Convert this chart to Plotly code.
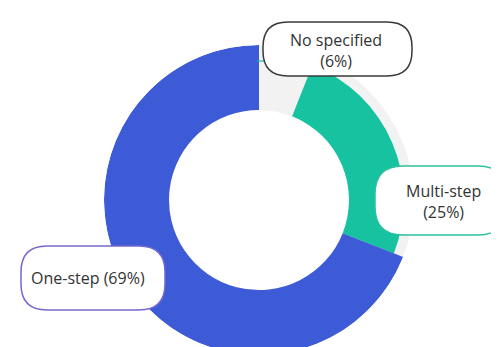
import plotly.graph_objects as go

# ---- data ----
categories = ["No specified", "Multi-step", "One-step"]
shares = [6, 25, 69]
label_texts = ["No specified<br>(6%)", "Multi-step<br>(25%)", "One-step (69%)"]

# ---- styling ----
colors = ["#f2f2f2", "#17c2a0", "#3d5bd6"]
outer_r = [136, 145, 155]
inner_r = 90
W, H = 499, 347
CX, CY, R = 251, 192, 155  # donut centre / radius in px

# slice geometry from the data (degrees)
centers, widths, acc = [], [], 0
for s in shares:
    centers.append((acc + s / 2) * 3.6)
    widths.append(s * 3.6)
    acc += s

fig = go.Figure()
# soft shadow ring
fig.add_trace(go.Barpolar(
    theta=[180], width=[360], base=[inner_r], r=[R - inner_r],
    marker=dict(color="rgba(0,0,0,0.05)", line=dict(width=0)),
    hoverinfo="skip", showlegend=False))
fig.add_trace(go.Barpolar(
    theta=centers, width=widths, base=[inner_r] * len(shares),
    r=[o - inner_r for o in outer_r],
    marker=dict(color=colors, line=dict(width=0)),
    text=categories, hoverinfo="text", showlegend=False))


def px(x, y):
    return x / W, 1 - y / H


def rrect(x0, y0, x1, y1, r):
    pts = [
        ("M", (x0 + r, y0)), ("L", (x1 - r, y0)), ("Q", (x1, y0), (x1, y0 + r)),
        ("L", (x1, y1 - r)), ("Q", (x1, y1), (x1 - r, y1)),
        ("L", (x0 + r, y1)), ("Q", (x0, y1), (x0, y1 - r)),
        ("L", (x0, y0 + r)), ("Q", (x0, y0), (x0 + r, y0)),
    ]
    out = []
    for p in pts:
        coords = " ".join("%.5f,%.5f" % px(*c) for c in p[1:])
        out.append(p[0] + " " + coords)
    return " ".join(out) + " Z"


boxes = [
    ((255, 14, 404, 68, 25), "#3a3a3a", (328, 42)),
    ((367, 158, 498, 227, 28), "#2cc09e", (435, 193)),
    ((13, 238, 157, 302, 26), "#7468d0", (80, 270)),
]
shapes = []
annotations = []
# small leader line by the top label
x0, y0 = px(249, 53)
x1, y1 = px(256, 53)
shapes.append(dict(type="line", xref="paper", yref="paper", x0=x0, y0=y0, x1=x1, y1=y1,
                   line=dict(color="#17c2a0", width=1.2), layer="above"))
for (b, col, (tx, ty)), txt in zip(boxes, label_texts):
    shapes.append(dict(type="path", xref="paper", yref="paper", path=rrect(*b),
                       fillcolor="white", line=dict(color=col, width=1.5), layer="above"))
    ax, ay = px(tx, ty)
    annotations.append(dict(text=txt, x=ax, y=ay, xref="paper", yref="paper",
                            showarrow=False, xanchor="center", yanchor="middle",
                            font=dict(family="Open Sans", size=16, color="#333333")))

fig.update_layout(
    width=W, height=H,
    margin=dict(l=0, r=0, t=0, b=0),
    paper_bgcolor="white", plot_bgcolor="white",
    polar=dict(
        domain=dict(x=[(CX - R) / W, (CX + R) / W], y=[0, 2 * (H - CY) / H]),
        bgcolor="white", barmode="overlay", bargap=0, hole=0,
        radialaxis=dict(visible=False, range=[0, R]),
        angularaxis=dict(visible=False, rotation=90, direction="clockwise"),
    ),
    shapes=shapes, annotations=annotations,
)

fig.write_html("out.html")
